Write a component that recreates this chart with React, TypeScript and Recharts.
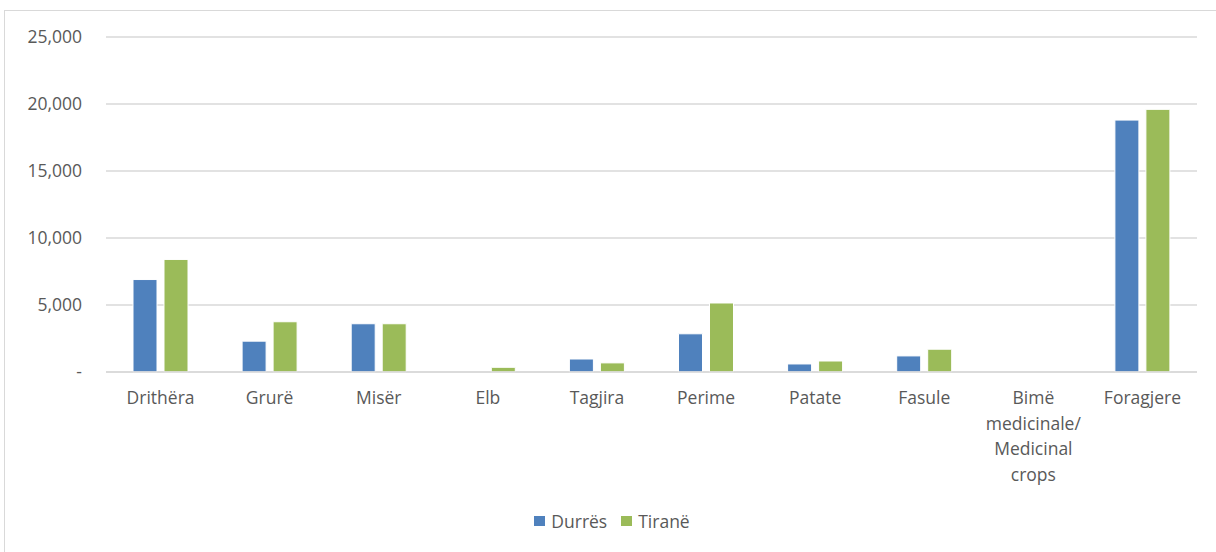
import React from "react";
import { BarChart, Bar, XAxis, YAxis, CartesianGrid, Legend } from "recharts";

const categories = [
  "Drithëra",
  "Grurë",
  "Misër",
  "Elb",
  "Tagjira",
  "Perime",
  "Patate",
  "Fasule",
  "Bimë\nmedicinale/\nMedicinal\ncrops",
  "Foragjere",
];
const durres = [6900, 2300, 3600, 0, 970, 2850, 600, 1200, 0, 18800];
const tirane = [8400, 3750, 3600, 350, 680, 5150, 820, 1700, 0, 19600];
const yTicks = [0, 5000, 10000, 15000, 20000, 25000];
const seriesNames = ["Durrës", "Tiranë"];
const colors = ["#4F81BD", "#9BBB59"];

const data = categories.map((c, i) => ({ cat: c, d: durres[i], t: tirane[i] }));

const FONT = "'Open Sans', sans-serif";
const TEXT = "#595959";

const fmt = (v: number) => (v === 0 ? "-" : v.toLocaleString("en-US"));

const XTick = (props: any) => {
  const { x, y, payload } = props;
  const lines = String(payload.value).split("\n");
  return (
    <text x={x} y={y} textAnchor="middle" fill={TEXT} fontFamily={FONT} fontSize={17.5}>
      {lines.map((l, i) => (
        <tspan key={i} x={x} dy={i === 0 ? 24 : 25.5}>
          {l}
        </tspan>
      ))}
    </text>
  );
};

const LegendContent = () => (
  <div style={{ display: "flex", justifyContent: "center", alignItems: "center", fontFamily: FONT, fontSize: 17.5, color: TEXT, paddingLeft: 8 }}>
    {seriesNames.map((n, i) => (
      <div key={n} style={{ display: "flex", alignItems: "center", marginRight: i === 0 ? 14 : 0 }}>
        <div style={{ width: 11, height: 10, background: colors[i], marginRight: 6 }} />
        <span>{n}</span>
      </div>
    ))}
  </div>
);

export default function App() {
  return (
    <div style={{ position: "absolute", left: 0, top: 0, width: 1216, height: 552, background: "#fff", overflow: "hidden" }}>
      <div
        style={{
          position: "absolute",
          left: 4,
          top: 10,
          width: 1240,
          height: 600,
          border: "1.5px solid #D9D9D9",
          boxSizing: "border-box",
        }}
      />
      <div style={{ position: "absolute", left: 0, top: 0 }}>
        <BarChart
          width={1216}
          height={552}
          data={data}
          margin={{ top: 37, right: 19, left: 0, bottom: 0 }}
          barSize={24}
          barGap={7}
        >
          <CartesianGrid vertical={false} stroke="#D9D9D9" strokeWidth={1.5} />
          <XAxis
            dataKey="cat"
            height={140}
            interval={0}
            tickLine={false}
            axisLine={{ stroke: "#D9D9D9", strokeWidth: 1.5 }}
            tick={<XTick />}
          />
          <YAxis
            width={106}
            domain={[0, 25000]}
            ticks={yTicks}
            tickFormatter={fmt}
            axisLine={false}
            tickLine={false}
            tickSize={0}
            tickMargin={24}
            tick={{ fill: TEXT, fontFamily: FONT, fontSize: 17.5 }}
          />
          <Legend
            verticalAlign="bottom"
            height={40}
            content={<LegendContent />}
            wrapperStyle={{ top: 509, left: 0, width: 1216 }}
          />
          <Bar dataKey="d" name={seriesNames[0]} fill={colors[0]} stroke="#fff" strokeWidth={1} isAnimationActive={false} />
          <Bar dataKey="t" name={seriesNames[1]} fill={colors[1]} stroke="#fff" strokeWidth={1} isAnimationActive={false} />
        </BarChart>
      </div>
    </div>
  );
}
